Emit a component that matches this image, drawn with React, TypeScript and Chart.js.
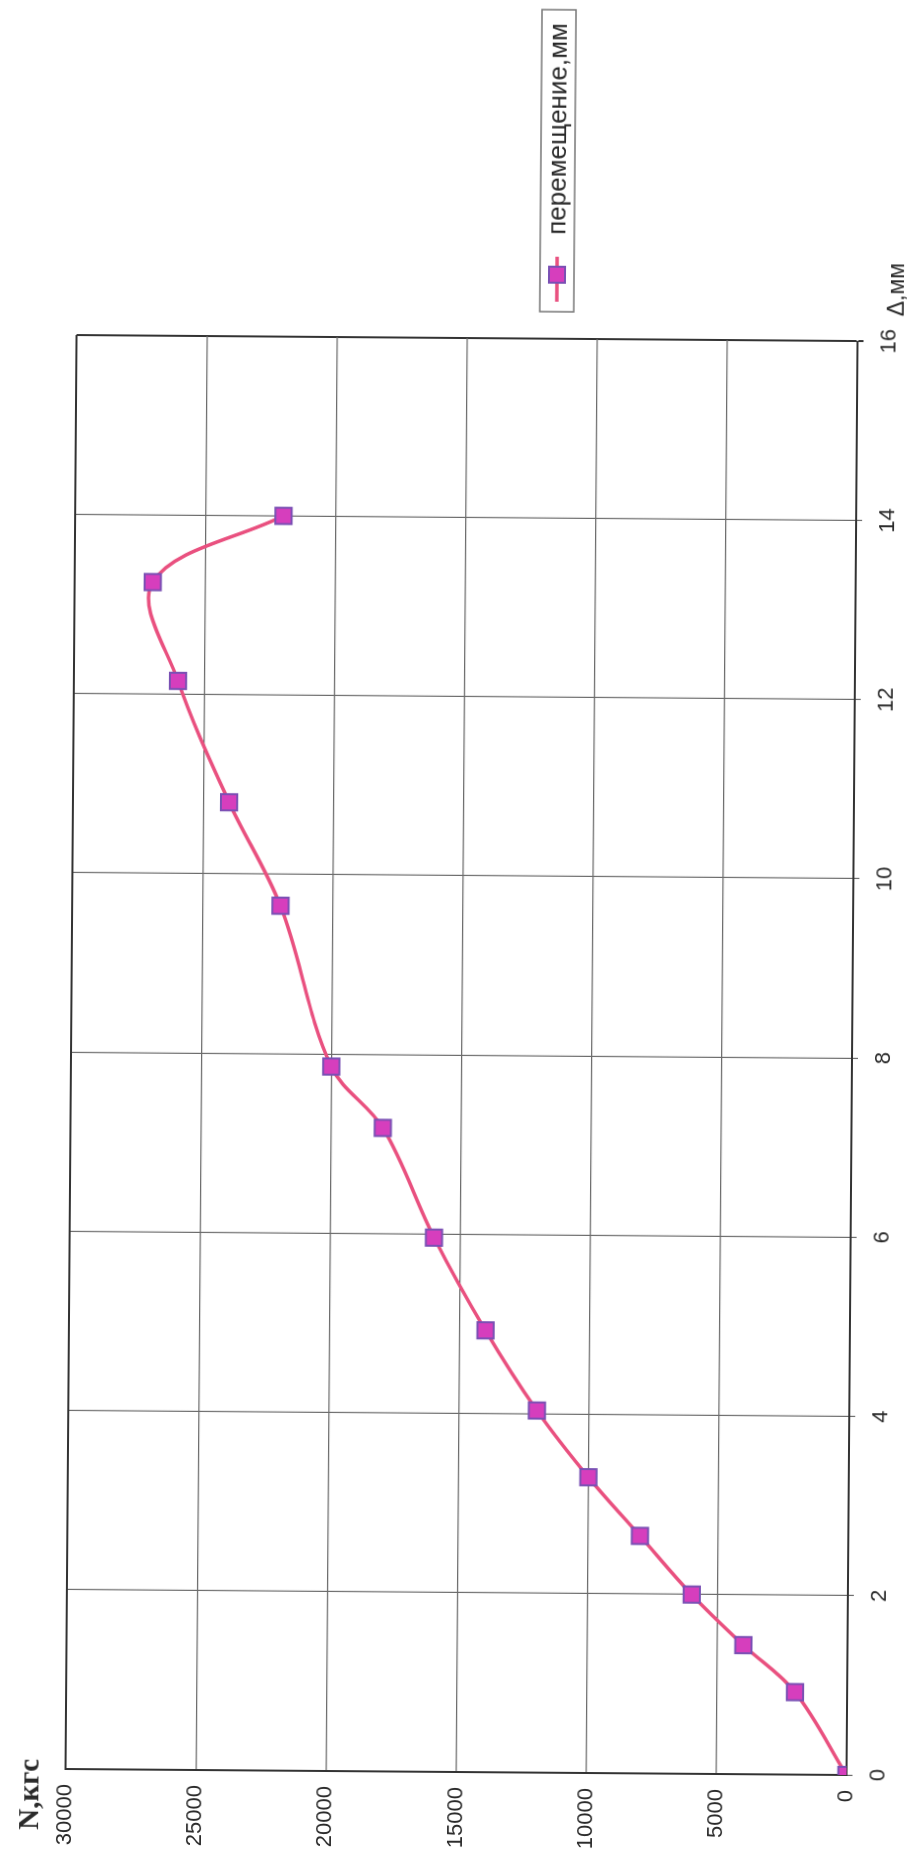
import { useEffect, useRef } from "react";
import { Chart, registerables } from "chart.js";

Chart.register(...registerables);

// Data read from the (rotated) reference picture
const displacementMm = [0, 0.92, 1.44, 2.0, 2.65, 3.3, 4.04, 4.93, 5.96, 7.18, 7.86, 9.65, 10.8, 12.15, 13.25, 14.0];
const forceKgf = [0, 2000, 4000, 6000, 8000, 10000, 12000, 14000, 16000, 18000, 20000, 22000, 24000, 26000, 27000, 22000];
const seriesLabel = "перемещение,мм";
const xAxisTitle = "Δ,мм";
const yAxisTitle = "N,кгс";
const xTickValues = [0, 2, 4, 6, 8, 10, 12, 14, 16];
const yTickValues = [0, 5000, 10000, 15000, 20000, 25000, 30000];

const LINE_COLOR = "#e9507f";
const MARK_FILL = "#d63ebd";
const MARK_EDGE = "#7a50b4";
const FRAME = "#333333";
const GRID = "#6c6c6c";
const TEXT = "#2a2a2a";

const decorPlugin = {
  id: "decor",
  afterDraw(chart: any) {
    const { ctx, chartArea } = chart;
    ctx.save();
    // y axis title
    ctx.fillStyle = TEXT;
    ctx.font = 'bold 29px "Liberation Serif"';
    ctx.textAlign = "left";
    ctx.textBaseline = "alphabetic";
    ctx.fillText(yAxisTitle, 21, 45);
    // x axis title
    ctx.font = '23px "Liberation Sans"';
    ctx.fillText(xAxisTitle, chartArea.right + 25, 899);
    // legend
    const lx = chartArea.right + 27;
    const ly = 535;
    const lw = 302;
    const lh = 34;
    ctx.fillStyle = "#ffffff";
    ctx.fillRect(lx, ly, lw, lh);
    ctx.strokeStyle = "#777777";
    ctx.lineWidth = 1.5;
    ctx.strokeRect(lx, ly, lw, lh);
    const cy = ly + lh / 2;
    ctx.strokeStyle = LINE_COLOR;
    ctx.lineWidth = 3.5;
    ctx.beginPath();
    ctx.moveTo(lx + 10, cy);
    ctx.lineTo(lx + 55, cy);
    ctx.stroke();
    ctx.fillStyle = MARK_FILL;
    ctx.strokeStyle = MARK_EDGE;
    ctx.lineWidth = 2;
    ctx.fillRect(lx + 29, cy - 8, 16, 16);
    ctx.strokeRect(lx + 29, cy - 8, 16, 16);
    ctx.fillStyle = TEXT;
    ctx.font = '26px "Liberation Sans"';
    ctx.textBaseline = "middle";
    ctx.fillText(seriesLabel, lx + 77, cy + 1);
    ctx.restore();
  },
};

export default function App() {
  const canvasRef = useRef<HTMLCanvasElement | null>(null);

  useEffect(() => {
    const canvas = canvasRef.current;
    if (!canvas) return;
    const points = displacementMm.map((d, i) => ({ x: d, y: forceKgf[i] }));
    const chart = new Chart(canvas, {
      type: "line",
      data: {
        datasets: [
          {
            label: seriesLabel,
            data: points,
            borderColor: LINE_COLOR,
            borderWidth: 3.5,
            tension: 0.35,
            pointStyle: "rect",
            pointRadius: 11.5,
            pointBackgroundColor: MARK_FILL,
            pointBorderColor: MARK_EDGE,
            pointBorderWidth: 2,
            fill: false,
          },
        ],
      },
      options: {
        responsive: false,
        maintainAspectRatio: false,
        devicePixelRatio: 1,
        animation: false,
        events: [],
        layout: { padding: { left: 0, top: 72, right: 338, bottom: 0 } },
        plugins: {
          legend: { display: false },
          tooltip: { enabled: false },
          title: { display: false },
        },
        scales: {
          x: {
            type: "linear",
            position: "bottom",
            min: 0,
            max: 16,
            afterBuildTicks: (s: any) => {
              s.ticks = xTickValues.map((v) => ({ value: v }));
            },
            afterFit: (s: any) => {
              s.height = 65;
              s.paddingLeft = 0;
              s.paddingRight = 0;
            },
            ticks: {
              color: TEXT,
              font: { family: "Liberation Sans", size: 22 },
              padding: 13,
              maxRotation: 0,
              autoSkip: false,
            },
            grid: {
              drawTicks: true,
              tickLength: 6,
              color: (c: any) => (c.tick && c.tick.value === 16 ? FRAME : GRID),
              lineWidth: (c: any) => (c.tick && c.tick.value === 16 ? 2 : 1.2),
            },
            border: { display: true, color: FRAME, width: 2 },
          },
          y: {
            type: "linear",
            position: "left",
            min: 0,
            max: 30000,
            afterBuildTicks: (s: any) => {
              s.ticks = yTickValues.map((v) => ({ value: v }));
            },
            afterFit: (s: any) => {
              s.width = 82;
              s.paddingTop = 0;
              s.paddingBottom = 0;
            },
            ticks: {
              color: TEXT,
              font: { family: "Liberation Sans", size: 22 },
              padding: 15,
              autoSkip: false,
              callback: (v: any) => String(v),
            },
            grid: {
              drawTicks: false,
              color: (c: any) => (c.tick && c.tick.value === 30000 ? FRAME : GRID),
              lineWidth: (c: any) => (c.tick && c.tick.value === 30000 ? 2 : 1.2),
            },
            border: { display: true, color: FRAME, width: 2 },
          },
        },
      },
      plugins: [decorPlugin],
    });
    return () => chart.destroy();
  }, []);

  return (
    <div
      style={{
        position: "absolute",
        left: 0,
        top: 0,
        width: 918,
        height: 1854,
        overflow: "hidden",
        background: "#ffffff",
      }}
    >
      <div
        style={{
          position: "absolute",
          left: -468,
          top: 468,
          width: 1854,
          height: 918,
          transform: "rotate(-89.56deg)",
          transformOrigin: "50% 50%",
        }}
      >
        <canvas ref={canvasRef} width={1854} height={918} style={{ width: 1854, height: 918, display: "block" }} />
      </div>
    </div>
  );
}
